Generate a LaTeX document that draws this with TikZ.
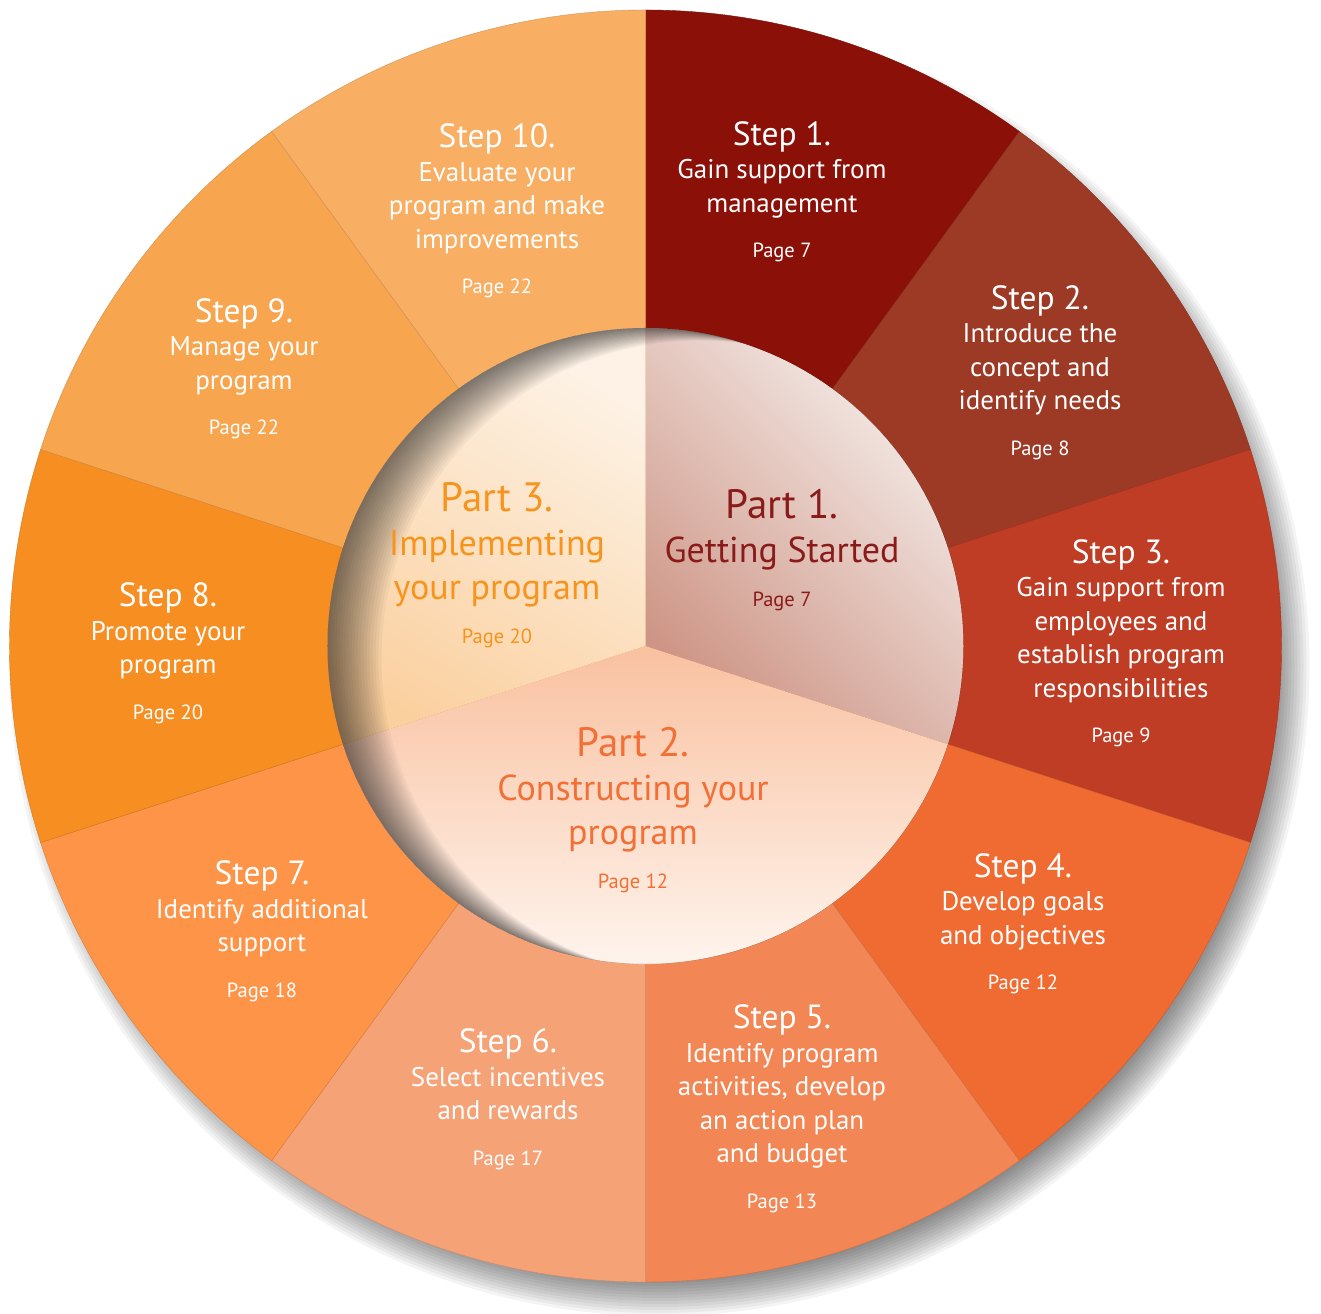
\documentclass[tikz,border=0pt]{standalone}
\usepackage{fontspec}
\setmainfont{PT Sans}
\definecolor{stepAc}{HTML}{8B1008}
\definecolor{stepBc}{HTML}{9D3A26}
\definecolor{stepCc}{HTML}{BF3C25}
\definecolor{stepDc}{HTML}{F06B32}
\definecolor{stepEc}{HTML}{F28654}
\definecolor{stepFc}{HTML}{F5A277}
\definecolor{stepGc}{HTML}{FD9448}
\definecolor{stepHc}{HTML}{F68E22}
\definecolor{stepIc}{HTML}{F7A54F}
\definecolor{stepJc}{HTML}{F8AE63}
\definecolor{partAc}{HTML}{8A1B1B}
\definecolor{partBc}{HTML}{F26F35}
\definecolor{partCc}{HTML}{F7941E}
\definecolor{discAdark}{HTML}{CE9586}
\definecolor{discAlight}{HTML}{F7F1EE}
\definecolor{discBdark}{HTML}{F9C1A0}
\definecolor{discBlight}{HTML}{FFFAF6}
\definecolor{discCdark}{HTML}{FBD09F}
\definecolor{discClight}{HTML}{FDF2E5}
\newcommand{\steptitle}[1]{{\fontsize{33.5}{33.5}\selectfont #1}}
\newcommand{\steppage}[1]{{\fontsize{20.5}{33.5}\selectfont #1}}
\newcommand{\parttitle}[1]{{\fontsize{41}{44}\selectfont #1}}
\newcommand{\partpage}[1]{{\fontsize{20.5}{44}\selectfont #1}}
\tikzset{
  wedge/.style={fill=#1, draw=#1!85!black, line width=0.4pt},
  steptext/.style={text=white, align=center, inner sep=0pt, anchor=center,
    font=\fontsize{27}{33.5}\selectfont},
  parttext/.style={text=#1, align=center, inner sep=0pt, anchor=center,
    font=\fontsize{36}{44}\selectfont}
}
\begin{document}
\begin{tikzpicture}[x=1pt, y=1pt]
\useasboundingbox[fill=white] (-645.5,-667) rectangle (675.5,646);

% soft shadow under the ring
\foreach \r in {608,611,...,650}
  \fill[black, opacity=0.045] (14,-20) circle (\r);

% outer ring
\filldraw[wedge=stepAc] (0,0) -- (90:636) arc[start angle=90, end angle=54, radius=636] -- cycle;
\filldraw[wedge=stepBc] (0,0) -- (54:636) arc[start angle=54, end angle=18, radius=636] -- cycle;
\filldraw[wedge=stepCc] (0,0) -- (18:636) arc[start angle=18, end angle=-18, radius=636] -- cycle;
\filldraw[wedge=stepDc] (0,0) -- (-18:636) arc[start angle=-18, end angle=-54, radius=636] -- cycle;
\filldraw[wedge=stepEc] (0,0) -- (-54:636) arc[start angle=-54, end angle=-90, radius=636] -- cycle;
\filldraw[wedge=stepFc] (0,0) -- (-90:636) arc[start angle=-90, end angle=-126, radius=636] -- cycle;
\filldraw[wedge=stepGc] (0,0) -- (-126:636) arc[start angle=-126, end angle=-162, radius=636] -- cycle;
\filldraw[wedge=stepHc] (0,0) -- (-162:636) arc[start angle=-162, end angle=-198, radius=636] -- cycle;
\filldraw[wedge=stepIc] (0,0) -- (162:636) arc[start angle=162, end angle=126, radius=636] -- cycle;
\filldraw[wedge=stepJc] (0,0) -- (126:636) arc[start angle=126, end angle=90, radius=636] -- cycle;

% inner disc, three parts
\shade[top color=discAlight, bottom color=discAdark, shading angle=-45]
  (0,0) -- (-18:318) arc[start angle=-18, end angle=90, radius=318] -- cycle;
\shade[top color=discBdark, bottom color=discBlight, shading angle=0]
  (0,0) -- (198:318) arc[start angle=198, end angle=342, radius=318] -- cycle;
\shade[left color=discClight, right color=discCdark, shading angle=-30]
  (0,0) -- (90:318) arc[start angle=90, end angle=198, radius=318] -- cycle;

% inner shadow on the disc
\begin{scope}
  \clip (0,0) circle (318);
  \foreach \k in {1,...,18}
    \fill[black, opacity=0.036, even odd rule] (0,0) circle (318) (3*\k,-0.7*\k) circle (318);
\end{scope}

% step labels
\node[steptext] (s1) at (136.5,454) {\steptitle{Step 1.}\\Gain support from\\management\\[12pt]\steppage{Page 7}};
\node[steptext] (s2) at (394.5,273.5) {\steptitle{Step 2.}\\Introduce the\\concept and\\identify needs\\[12pt]\steppage{Page 8}};
\node[steptext] (s3) at (475.5,3) {\steptitle{Step 3.}\\Gain support from\\employees and\\establish program\\responsibilities\\[12pt]\steppage{Page 9}};
\node[steptext] (s4) at (377.5,-277.5) {\steptitle{Step 4.}\\Develop goals\\and objectives\\[12pt]\steppage{Page 12}};
\node[steptext] (s5) at (136.5,-462.5) {\steptitle{Step 5.}\\Identify program\\activities, develop\\an action plan\\and budget\\[12pt]\steppage{Page 13}};
\node[steptext] (s6) at (-137.5,-453) {\steptitle{Step 6.}\\Select incentives\\and rewards\\[12pt]\steppage{Page 17}};
\node[steptext] (s7) at (-383.5,-285) {\steptitle{Step 7.}\\Identify additional\\support\\[12pt]\steppage{Page 18}};
\node[steptext] (s8) at (-477.5,-7) {\steptitle{Step 8.}\\Promote your\\program\\[12pt]\steppage{Page 20}};
\node[steptext] (s9) at (-401.5,277) {\steptitle{Step 9.}\\Manage your\\program\\[12pt]\steppage{Page 22}};
\node[steptext] (s10) at (-148.5,435) {\steptitle{Step 10.}\\Evaluate your\\program and make\\improvements\\[12pt]\steppage{Page 22}};

% part labels
\node[parttext=partAc] (p1) at (136.5,96) {\parttitle{Part 1.}\\Getting Started\\\partpage{Page 7}};
\node[parttext=partBc] (p2) at (-12.5,-164.5) {\parttitle{Part 2.}\\Constructing your\\program\\\partpage{Page 12}};
\node[parttext=partCc] (p3) at (-148.5,80.5) {\parttitle{Part 3.}\\Implementing\\your program\\\partpage{Page 20}};

\end{tikzpicture}
\end{document}
